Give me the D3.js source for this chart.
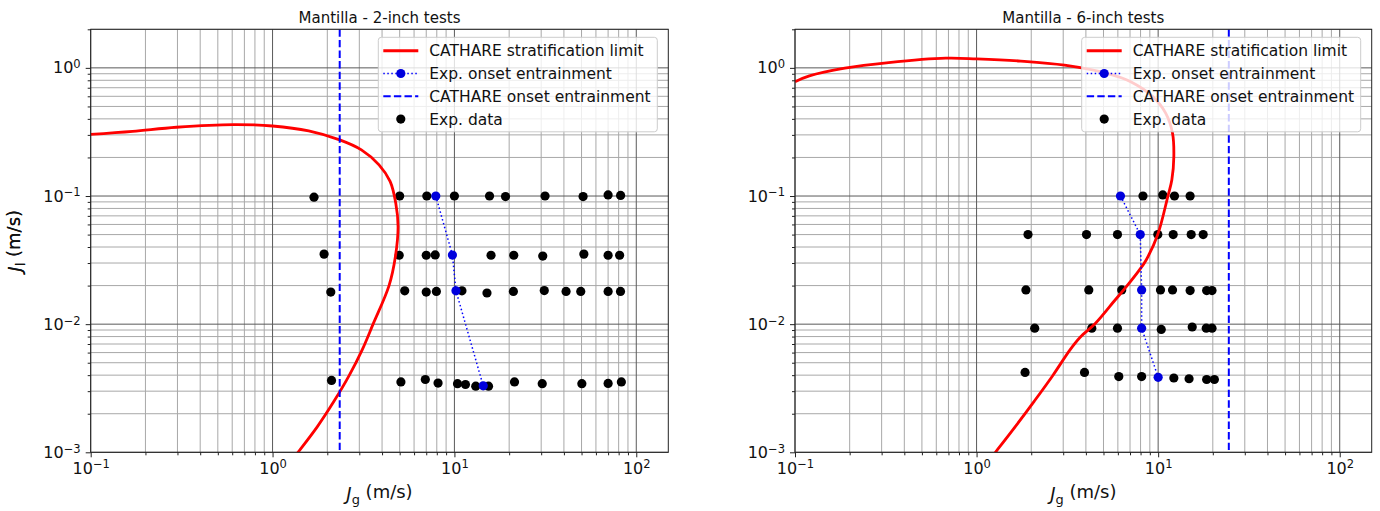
<!DOCTYPE html>
<html>
<head>
<meta charset="utf-8">
<script src="https://cdn.jsdelivr.net/npm/d3@7"></script>
<style>
  body { margin: 0; background: #fff; }
  svg { font-family: "DejaVu Sans", sans-serif; }
</style>
</head>
<body>
<svg id="chart" width="1380" height="511"></svg>
<script>
// ---- 2-inch tests ----
const strat2Jg = [0.1, 0.17, 0.296, 0.61, 1.0, 1.58, 2.34, 3.08, 3.85, 4.43, 4.76, 4.9, 4.74, 4.37, 3.57, 3.11, 2.64, 2.18, 1.76, 1.38, 1.21];
const strat2Jl = [0.303, 0.32, 0.344, 0.361, 0.352, 0.322, 0.274, 0.229, 0.175, 0.13, 0.0879, 0.0577, 0.0339, 0.02, 0.01, 0.0063, 0.00398, 0.00251, 0.00158, 0.001, 0.00079];
const onset2Jg = [7.9, 9.75, 10.2, 14.4];
const onset2Jl = [0.1, 0.0346, 0.0182, 0.0033];
const cathare2Jg = 2.34;
const exp2Jg = [1.69, 5.0, 7.05, 10, 15.6, 19.1, 31.5, 51, 70, 82,
  1.92, 4.97, 7.0, 7.84, 15.9, 21.2, 30.6, 51.5, 70, 81,
  2.09, 5.33, 7.0, 7.96, 11.0, 15.1, 21.1, 31.2, 41.1, 49.5, 70, 81.9,
  2.11, 5.08, 6.92, 8.13, 10.4, 11.5, 13.1, 15.4, 21.4, 30.4, 50.2, 70, 82.8];
const exp2Jl = [0.098, 0.1, 0.1, 0.1, 0.1, 0.099, 0.1, 0.099, 0.102, 0.101,
  0.0352, 0.0345, 0.0345, 0.0347, 0.0345, 0.0345, 0.034, 0.0352, 0.0345, 0.0345,
  0.0178, 0.0182, 0.0178, 0.018, 0.0182, 0.0175, 0.018, 0.0183, 0.018, 0.018, 0.018, 0.018,
  0.00364, 0.00354, 0.0037, 0.00347, 0.00343, 0.00338, 0.00328, 0.00328, 0.00354, 0.00343, 0.00343, 0.00345, 0.00354];

// ---- 6-inch tests ----
const strat6Jg = [0.1, 0.12, 0.188, 0.328, 0.677, 1.0, 1.75, 3.05, 5.35, 7.06, 9.33, 11.0, 12.0, 12.2, 11.9, 11.3, 9.96, 8.59, 7.89, 6.68, 5.81, 4.52, 3.72, 3.27, 2.63, 2.08, 1.63, 1.27, 1.05];
const strat6Jl = [0.78, 0.866, 0.995, 1.1, 1.19, 1.175, 1.13, 1.05, 0.898, 0.78, 0.597, 0.443, 0.309, 0.203, 0.134, 0.099, 0.0503, 0.0317, 0.0265, 0.0196, 0.0155, 0.01016, 0.0079, 0.0063, 0.00398, 0.00251, 0.00158, 0.001, 0.000708];
const onset6Jg = [6.2, 7.97, 8.11, 8.11, 10.0];
const onset6Jl = [0.1, 0.05, 0.0185, 0.0093, 0.00385];
const cathare6Jg = 24.5;
const exp6Jg = [8.25, 10.6, 12.3, 15.0,
  1.92, 4.03, 5.97, 9.96, 12.1, 15.2, 17.7,
  1.87, 4.15, 6.3, 10.3, 12.0, 15.0, 18.5, 19.8,
  2.09, 4.31, 5.97, 10.4, 15.4, 18.4, 19.8,
  1.85, 3.93, 6.07, 8.11, 12.2, 14.8, 18.5, 20.4];
const exp6Jl = [0.1, 0.102, 0.1, 0.1,
  0.05, 0.05, 0.05, 0.05, 0.05, 0.05, 0.05,
  0.0185, 0.0185, 0.0185, 0.0185, 0.0185, 0.0183, 0.0183, 0.0183,
  0.0093, 0.0093, 0.0093, 0.0091, 0.0095, 0.0093, 0.0093,
  0.0042, 0.0042, 0.0039, 0.0039, 0.0038, 0.00375, 0.0037, 0.0037];

const xMajor = [0.1, 1, 10, 100];
const yMajor = [0.001, 0.01, 0.1, 1];
const legendLabels = ['CATHARE stratification limit', 'Exp. onset entrainment', 'CATHARE onset entrainment', 'Exp. data'];

const svg = d3.select('#chart');
const plotTop = 29.3, plotHeight = 423;

function minorTicks(lo, hi) {
  const out = [];
  for (let d = Math.floor(Math.log10(lo)); d <= Math.ceil(Math.log10(hi)); d++) {
    for (let k = 2; k <= 9; k++) {
      const v = k * Math.pow(10, d);
      if (v >= lo && v <= hi) out.push(v);
    }
  }
  return out;
}

function powLabel(text) {
  text.each(function (v) {
    const e = Math.round(Math.log10(v));
    const t = d3.select(this).text(null);
    t.append('tspan').text('10');
    t.append('tspan').attr('dy', '-0.45em').attr('font-size', '0.72em')
      .text(e < 0 ? '\u2212' + (-e) : String(e));
  });
}

function drawPanel(opts) {
  const height = plotHeight;
  const g = svg.append('g').attr('transform', `translate(${opts.left},${plotTop})`);
  const w = opts.width;
  const x = d3.scaleLog().domain([0.1, 150]).range([0, w]);
  const y = d3.scaleLog().domain([0.001, 2]).range([height, 0]);
  const clipId = 'clip' + opts.id;

  g.append('clipPath').attr('id', clipId)
    .append('rect').attr('width', w).attr('height', height);

  // grid
  const xMinor = minorTicks(0.1, 150).filter((v) => !xMajor.includes(v));
  const yMinor = minorTicks(0.001, 2).filter((v) => !yMajor.includes(v));
  g.append('g').selectAll('line').data(xMinor).enter().append('line')
    .attr('x1', x).attr('x2', x).attr('y1', 0).attr('y2', height)
    .attr('stroke', '#a8a8a8').attr('stroke-width', 1);
  g.append('g').selectAll('line').data(yMinor).enter().append('line')
    .attr('y1', y).attr('y2', y).attr('x1', 0).attr('x2', w)
    .attr('stroke', '#a8a8a8').attr('stroke-width', 1);
  g.append('g').selectAll('line').data(xMajor).enter().append('line')
    .attr('x1', x).attr('x2', x).attr('y1', 0).attr('y2', height)
    .attr('stroke', '#5a5a5a').attr('stroke-width', 1);
  g.append('g').selectAll('line').data(yMajor).enter().append('line')
    .attr('y1', y).attr('y2', y).attr('x1', 0).attr('x2', w)
    .attr('stroke', '#5a5a5a').attr('stroke-width', 1);

  const plot = g.append('g').attr('clip-path', `url(#${clipId})`);

  // exp data (scatter, below the lines)
  plot.append('g').selectAll('circle').data(opts.expJg).enter().append('circle')
    .attr('cx', (d) => x(d))
    .attr('cy', (d, i) => y(opts.expJl[i]))
    .attr('r', 4.6).attr('fill', '#000');

  // stratification limit
  const line = d3.line().x((d) => x(d[0])).y((d) => y(d[1]));
  const smooth = d3.line().x((d) => x(d[0])).y((d) => y(d[1])).curve(d3.curveCatmullRom.alpha(0.5));
  plot.append('path')
    .datum(opts.stratJg.map((v, i) => [v, opts.stratJl[i]]))
    .attr('d', smooth).attr('fill', 'none')
    .attr('stroke', '#ff0000').attr('stroke-width', 2.8);

  // exp onset entrainment
  const onset = opts.onsetJg.map((v, i) => [v, opts.onsetJl[i]]);
  plot.append('path').datum(onset).attr('d', line).attr('fill', 'none')
    .attr('stroke', '#0000ff').attr('stroke-width', 1.5).attr('stroke-dasharray', '1.5,2.5');
  plot.append('g').selectAll('circle').data(onset).enter().append('circle')
    .attr('cx', (d) => x(d[0])).attr('cy', (d) => y(d[1]))
    .attr('r', 4.6).attr('fill', '#0000dd');

  // CATHARE onset entrainment
  plot.append('line')
    .attr('x1', x(opts.cathareJg)).attr('x2', x(opts.cathareJg))
    .attr('y1', 0).attr('y2', height)
    .attr('stroke', '#0000ff').attr('stroke-width', 2).attr('stroke-dasharray', '7.4,3.2');

  // axes
  const xAxis = g.append('g').attr('transform', `translate(0,${height})`)
    .call(d3.axisBottom(x).tickValues(xMajor).tickSizeInner(5).tickSizeOuter(0).tickPadding(5));
  const xMinorAxis = g.append('g').attr('transform', `translate(0,${height})`)
    .call(d3.axisBottom(x).tickValues(xMinor).tickSizeInner(3).tickSizeOuter(0).tickFormat(''));
  const yAxis = g.append('g')
    .call(d3.axisLeft(y).tickValues(yMajor).tickSizeInner(5).tickSizeOuter(0).tickPadding(5));
  const yMinorAxis = g.append('g')
    .call(d3.axisLeft(y).tickValues(yMinor).tickSizeInner(3).tickSizeOuter(0).tickFormat(''));
  [xAxis, xMinorAxis, yAxis, yMinorAxis].forEach((a) => {
    a.select('.domain').remove();
    a.selectAll('line').attr('stroke', '#222');
    a.selectAll('text').attr('font-family', 'DejaVu Sans').attr('font-size', 16).attr('fill', '#111');
  });
  xAxis.selectAll('text').call(powLabel);
  yAxis.selectAll('text').call(powLabel);

  g.append('rect').attr('width', w).attr('height', height)
    .attr('fill', 'none').attr('stroke', '#222').attr('stroke-width', 1);

  // title and axis labels
  g.append('text').attr('x', w / 2).attr('y', 22.5 - plotTop)
    .attr('text-anchor', 'middle').attr('font-size', 15).attr('fill', '#111')
    .text(opts.title);

  const xl = g.append('text').attr('x', w / 2).attr('y', 500 - plotTop)
    .attr('text-anchor', 'middle').attr('font-size', 18).attr('fill', '#111');
  xl.append('tspan').attr('font-style', 'italic').text('J');
  xl.append('tspan').attr('dy', '0.3em').attr('font-size', '0.72em').text('g');
  xl.append('tspan').attr('dy', '-0.3em').text(' (m/s)');

  const yl = g.append('text')
    .attr('transform', `translate(${21 - opts.left},${height / 2}) rotate(-90)`)
    .attr('text-anchor', 'middle').attr('font-size', 18).attr('fill', '#111');
  yl.append('tspan').attr('font-style', 'italic').text('J');
  yl.append('tspan').attr('dy', '0.3em').attr('font-size', '0.72em').text('l');
  yl.append('tspan').attr('dy', '-0.3em').text(' (m/s)');

  // legend
  const lg = g.append('g').attr('transform', `translate(${w - 290},${8})`);
  lg.append('rect').attr('width', 279).attr('height', 94.5).attr('rx', 3)
    .attr('fill', '#fff').attr('fill-opacity', 0.8)
    .attr('stroke', '#ccc').attr('stroke-width', 1);
  const rowY = (i) => 13.4 + i * 22.8;
  const items = lg.selectAll('g.item').data(legendLabels).enter().append('g')
    .attr('class', 'item').attr('transform', (d, i) => `translate(0,${rowY(i)})`);
  items.append('text').attr('x', 51).attr('y', 0).attr('dy', '0.36em')
    .attr('font-size', 15.5).attr('fill', '#111').text((d) => d);
  const h0 = items.filter((d, i) => i === 0);
  h0.append('line').attr('x1', 5).attr('x2', 40).attr('stroke', '#ff0000').attr('stroke-width', 3);
  const h1 = items.filter((d, i) => i === 1);
  h1.append('line').attr('x1', 5).attr('x2', 40).attr('stroke', '#0000ff')
    .attr('stroke-width', 1.5).attr('stroke-dasharray', '1.5,2.5');
  h1.append('circle').attr('cx', 22.5).attr('r', 4.6).attr('fill', '#0000dd');
  const h2 = items.filter((d, i) => i === 2);
  h2.append('line').attr('x1', 5).attr('x2', 40).attr('stroke', '#0000ff')
    .attr('stroke-width', 2).attr('stroke-dasharray', '7.4,3.2');
  const h3 = items.filter((d, i) => i === 3);
  h3.append('circle').attr('cx', 22.5).attr('r', 4.6).attr('fill', '#000');
}

drawPanel({
  id: 'a', left: 90.7, width: 577.6, title: 'Mantilla - 2-inch tests',
  stratJg: strat2Jg, stratJl: strat2Jl, onsetJg: onset2Jg, onsetJl: onset2Jl,
  cathareJg: cathare2Jg, expJg: exp2Jg, expJl: exp2Jl
});
drawPanel({
  id: 'b', left: 795, width: 576.7, title: 'Mantilla - 6-inch tests',
  stratJg: strat6Jg, stratJl: strat6Jl, onsetJg: onset6Jg, onsetJl: onset6Jl,
  cathareJg: cathare6Jg, expJg: exp6Jg, expJl: exp6Jl
});
</script>
</body>
</html>
